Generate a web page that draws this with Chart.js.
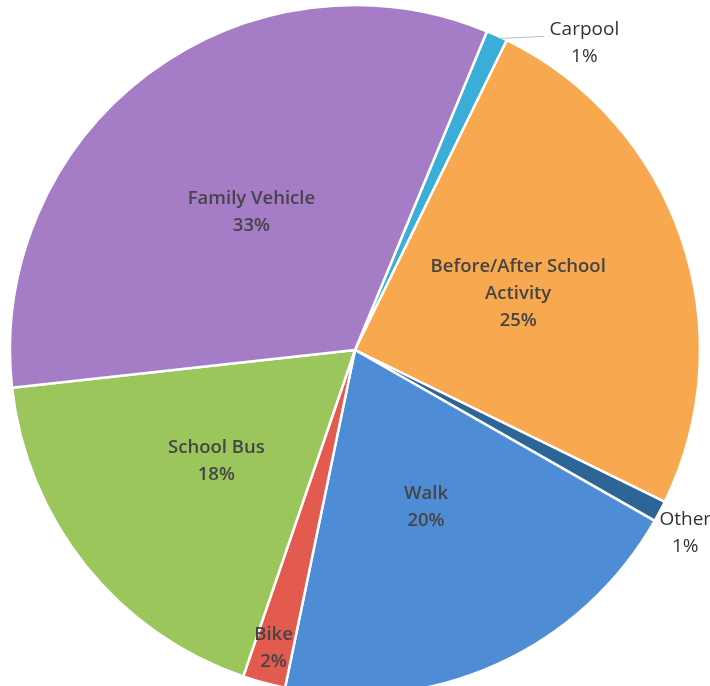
<!DOCTYPE html>
<html>
<head>
<meta charset="utf-8">
<script src="https://cdn.jsdelivr.net/npm/chart.js@4/dist/chart.umd.min.js"></script>
<style>
html,body{margin:0;padding:0;background:#fff;overflow:hidden;}
#wrap{width:710px;height:700px;}
</style>
</head>
<body>
<div id="wrap"><canvas id="c" width="710" height="700"></canvas></div>
<script>
const categories = ["Carpool", "Before/After School Activity", "Other", "Walk", "Bike", "School Bus", "Family Vehicle"];
const labelLines = [["Carpool"], ["Before/After School", "Activity"], ["Other"], ["Walk"], ["Bike"], ["School Bus"], ["Family Vehicle"]];
const values = [1, 25, 1, 20, 2, 18, 33];
const colors = ["#3aaed9", "#f8a84f", "#2d6696", "#4f8cd6", "#e35a4f", "#9bc65c", "#a57cc6"];

const labelPlugin = {
  id: 'sliceLabels',
  afterDatasetsDraw(chart) {
    const ctx = chart.ctx;
    const meta = chart.getDatasetMeta(0);
    const total = values.reduce((a, b) => a + b, 0);
    const lh = 27;
    meta.data.forEach((arc, i) => {
      const p = arc.getProps(['x', 'y', 'startAngle', 'endAngle', 'outerRadius'], true);
      const mid = (p.startAngle + p.endAngle) / 2;
      const R = p.outerRadius;
      const pct = Math.round(values[i] / total * 100) + '%';
      const lines = labelLines[i].concat([pct]);
      let cx, cy, inside = true;
      if (categories[i] === 'Carpool') {
        inside = false;
        const a = (-90 + 36.8) * Math.PI / 180;
        cx = p.x + Math.cos(a) * R * 1.11;
        cy = p.y + Math.sin(a) * R * 1.11;
        const ex = p.x + Math.cos(mid) * R, ey = p.y + Math.sin(mid) * R;
        ctx.save();
        ctx.strokeStyle = '#b8bcc4';
        ctx.lineWidth = 1;
        ctx.beginPath();
        ctx.moveTo(ex + 2, ey + 3);
        ctx.lineTo(cx - 40, cy - 7);
        ctx.stroke();
        ctx.restore();
      } else if (categories[i] === 'Other') {
        inside = false;
        cx = p.x + Math.cos(mid + 0.02) * R * 1.095;
        cy = p.y + Math.sin(mid + 0.02) * R * 1.095;
      } else {
        const f = categories[i] === 'Bike' ? 0.895 : (categories[i] === 'School Bus' ? 0.515 : 0.5);
        cx = p.x + Math.cos(mid) * R * f;
        cy = p.y + Math.sin(mid) * R * f;
      }
      ctx.save();
      ctx.textAlign = 'center';
      ctx.textBaseline = 'middle';
      ctx.fillStyle = inside ? '#454545' : '#333333';
      ctx.font = (inside ? '600 18.5px' : '400 19px') + ' "Open Sans", "Noto Sans", sans-serif';
      const y0 = cy - (lines.length - 1) * lh / 2;
      lines.forEach((t, k) => ctx.fillText(t, cx, y0 + k * lh));
      ctx.restore();
    });
  }
};

new Chart(document.getElementById('c'), {
  type: 'pie',
  data: {
    labels: categories,
    datasets: [{
      data: values,
      backgroundColor: colors,
      borderColor: '#ffffff',
      borderWidth: 2.5
    }]
  },
  options: {
    responsive: false,
    animation: false,
    rotation: 22.5,
    radius: 345,
    layout: { padding: 0 },
    plugins: { legend: { display: false }, tooltip: { enabled: false } }
  },
  plugins: [labelPlugin]
});
</script>
</body>
</html>
